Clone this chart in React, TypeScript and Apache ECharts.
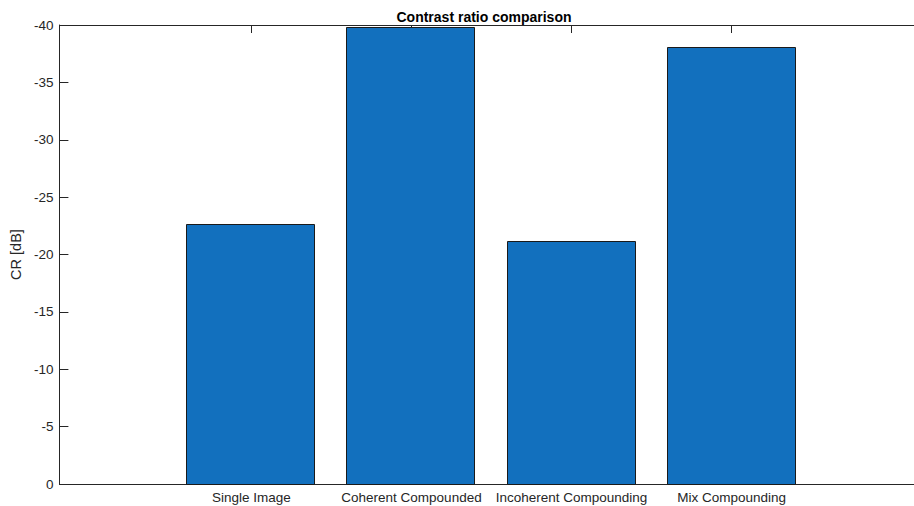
import React, { useEffect, useRef } from "react";
import * as echarts from "echarts";

// Contrast ratio per beamforming / compounding method (dB)
const CATEGORIES = [
  "Single Image",
  "Coherent Compounded",
  "Incoherent Compounding",
  "Mix Compounding",
];
const CR_VALUES = [-22.65, -39.85, -21.2, -38.1];
const Y_TICKS_MIN = -40;
const Y_TICKS_MAX = 0;
const Y_TICK_STEP = 5;

const BAR_WIDTH = 0.8;
const FONT = "'Liberation Sans', Arial, Helvetica, sans-serif";
const INK = "#262626";

export default function App() {
  const ref = useRef<HTMLDivElement>(null);

  useEffect(() => {
    if (!ref.current) return;
    const chart = echarts.init(ref.current, undefined, { renderer: "svg" });
    const positions = CATEGORIES.map((_, i) => i + 1);
    const data = CR_VALUES.map((v, i) => [positions[i], v]);

    const xBase = {
      type: "value" as const,
      min: -0.2,
      max: 5.14,
      splitLine: { show: false },
      axisLine: { show: true, onZero: false, lineStyle: { color: INK, width: 1 } },
      axisTick: {
        show: true,
        inside: true,
        length: 8,
        customValues: positions,
        lineStyle: { color: INK, width: 1 },
      },
    };

    chart.setOption({
      animation: false,
      backgroundColor: "#ffffff",
      title: {
        text: "Contrast ratio comparison",
        left: 479,
        textAlign: "center",
        top: 5,
        textStyle: { fontFamily: FONT, fontSize: 14, fontWeight: "bold", color: "#000" },
      },
      grid: { left: 57, right: 0, top: 25, bottom: 22, containLabel: false },
      xAxis: [
        {
          ...xBase,
          position: "bottom",
          axisLabel: {
            show: true,
            customValues: positions,
            formatter: (v: number) => CATEGORIES[Math.round(v) - 1] ?? "",
            margin: 6,
            fontFamily: FONT,
            fontSize: 13.5,
            color: INK,
          },
        },
        {
          ...xBase,
          position: "top",
          axisLabel: { show: false },
        },
      ],
      yAxis: {
        type: "value",
        min: Y_TICKS_MIN,
        max: Y_TICKS_MAX,
        interval: Y_TICK_STEP,
        inverse: true,
        name: "CR [dB]",
        nameLocation: "middle",
        nameGap: 32,
        nameTextStyle: { fontFamily: FONT, fontSize: 14.5, color: INK },
        splitLine: { show: false },
        axisLine: { show: true, onZero: false, lineStyle: { color: INK, width: 1 } },
        axisTick: { show: true, inside: true, length: 9, lineStyle: { color: INK, width: 1 } },
        axisLabel: { margin: 6, fontFamily: FONT, fontSize: 13.5, color: INK },
      },
      series: [
        {
          type: "custom",
          xAxisIndex: 0,
          encode: { x: 0, y: 1 },
          data,
          renderItem: (_params: any, api: any) => {
            const x = api.value(0);
            const v = api.value(1);
            const p0 = api.coord([x - BAR_WIDTH / 2, v]);
            const p1 = api.coord([x + BAR_WIDTH / 2, 0]);
            return {
              type: "rect",
              shape: {
                x: Math.round(p0[0]) - 0.5,
                y: Math.round(p0[1]) + 0.5,
                width: Math.round(p1[0] - p0[0]),
                height: Math.round(p1[1] - p0[1]),
              },
              style: { fill: "#1270BE", stroke: "#1a1a1a", lineWidth: 1 },
            };
          },
        },
      ],
    });

    return () => chart.dispose();
  }, []);

  return (
    <div
      ref={ref}
      style={{ position: "absolute", left: 0, top: 0, width: 914, height: 506 }}
    />
  );
}
